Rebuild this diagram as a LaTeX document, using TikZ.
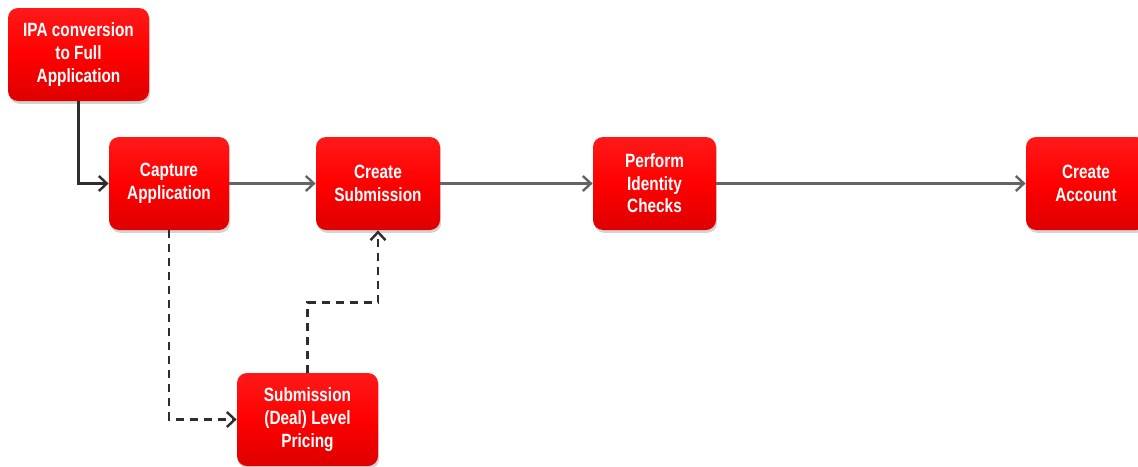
\documentclass[tikz,border=0pt]{standalone}
\usepackage{fontspec}
\setmainfont{Liberation Sans}[FakeStretch=0.8]
\usetikzlibrary{shadows,arrows.meta}
\definecolor{boxtop}{RGB}{255,25,25}
\definecolor{boxmid}{RGB}{255,0,0}
\definecolor{boxbot}{RGB}{222,0,0}
\definecolor{flowgray}{RGB}{100,100,100}
\definecolor{darkline}{RGB}{45,45,45}
\tikzset{
    >={Straight Barb[length=4pt,width=7.5pt]},
    stepbox/.style = {rectangle, rounded corners=5pt, top color=boxtop, bottom color=boxbot,
        middle color=boxmid, drop shadow={shadow xshift=0.6pt, shadow yshift=-1.4pt, opacity=0.35},
        text=white, align=center, inner sep=0pt, minimum height=46.5pt,
        font=\bfseries\fontsize{9.6}{11.3}\selectfont},
    flow/.style = {->, draw=flowgray, line width=1.2pt},
    dashflow/.style = {->, draw=darkline, line width=1.2pt, dash pattern=on 4pt off 3pt}
}
\begin{document}
\begin{tikzpicture}[x=0.5pt, y=-0.5pt]
        \useasboundingbox (0,0) rectangle (1138,466);
        \node[stepbox, minimum width=70.5pt] (ipa) at (78.5,54.5) {IPA conversion\\to Full\\Application};
        \node[stepbox, minimum width=60pt] (capture) at (169,183.5) {Capture\\Application};
        \node[stepbox, minimum width=62pt] (createsub) at (378,183.5) {Create\\Submission};
        \node[stepbox, minimum width=61.5pt] (identity) at (654.5,183.5) {Perform\\Identity\\Checks};
        \node[stepbox, minimum width=60pt] (account) at (1086,183.5) {Create\\Account};
        \node[stepbox, minimum width=70.5pt] (pricing) at (307.5,419.5) {Submission\\(Deal) Level\\Pricing};
        \draw[flow, draw=darkline] (ipa.south) |- (capture.west);
        \draw[flow] (capture) -- (createsub);
        \draw[flow] (createsub) -- (identity);
        \draw[flow] (identity) -- (account);
        \begin{scope}[style = dashflow]
            \draw (capture.south) |- (pricing.west);
            \draw (pricing.north) -- ++(0,-70) -| (createsub.south);
        \end{scope}
    \end{tikzpicture}
\end{document}
